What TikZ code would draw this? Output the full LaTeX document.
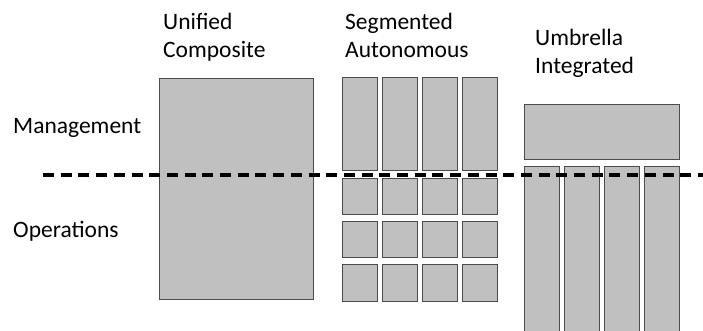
\documentclass[tikz,border=0pt]{standalone}
\usepackage{fontspec}
\setmainfont{Carlito}
\begin{document}
\begin{tikzpicture}[x=1pt,y=-1pt,
  block/.style={draw=black!70,line width=0.8pt,fill=blockgray,inner sep=0pt,outer sep=0pt,anchor=north west},
  title/.style={inner sep=0pt,anchor=base west,align=left,font=\fontsize{23.5}{28}\selectfont},
  divider/.style={line width=4pt,dash pattern=on 11pt off 6.7pt}]
\definecolor{blockgray}{RGB}{192,192,192}
\useasboundingbox (0,0) rectangle (703,331);
\clip (0,0) rectangle (703,331);

% column titles (placed by the baseline of their last line)
\node[title] (tu) at (163,57.5) {Unified\\Composite};
\node[title] (ts) at (345,58) {Segmented\\Autonomous};
\node[title] (tm) at (535,74) {Umbrella\\Integrated};

% row labels
\node[title] (lm) at (13,134) {Management};
\node[title] (lo) at (13,237) {Operations};

% unified: one block spanning both layers
\node[block,minimum width=154pt,minimum height=221pt] (u) at (159,78) {};

% segmented: tall management blocks over a grid of operations blocks
\foreach \c/\x in {1/342,2/382,3/422,4/462}{
  \node[block,minimum width=35pt,minimum height=93pt] (s-1-\c) at (\x,77) {};
  \node[block,minimum width=35pt,minimum height=36pt] (s-2-\c) at (\x,178) {};
  \node[block,minimum width=35pt,minimum height=36pt] (s-3-\c) at (\x+0.7,221) {};
  \node[block,minimum width=35pt,minimum height=37pt] (s-4-\c) at (\x+0.7,264) {};
}

% umbrella: one management block over tall operations columns
\node[block,minimum width=155pt,minimum height=55pt] (m) at (524,104) {};
\foreach \c/\x in {1/524,2/564,3/604,4/644}{
  \node[block,minimum width=35pt,minimum height=180pt] (m-\c) at (\x,166) {};
}

% management / operations boundary
\coordinate (d0) at (43,175);
\coordinate (d1) at (703,175);
\draw[divider] (d0) -- (d1);
\end{tikzpicture}
\end{document}
